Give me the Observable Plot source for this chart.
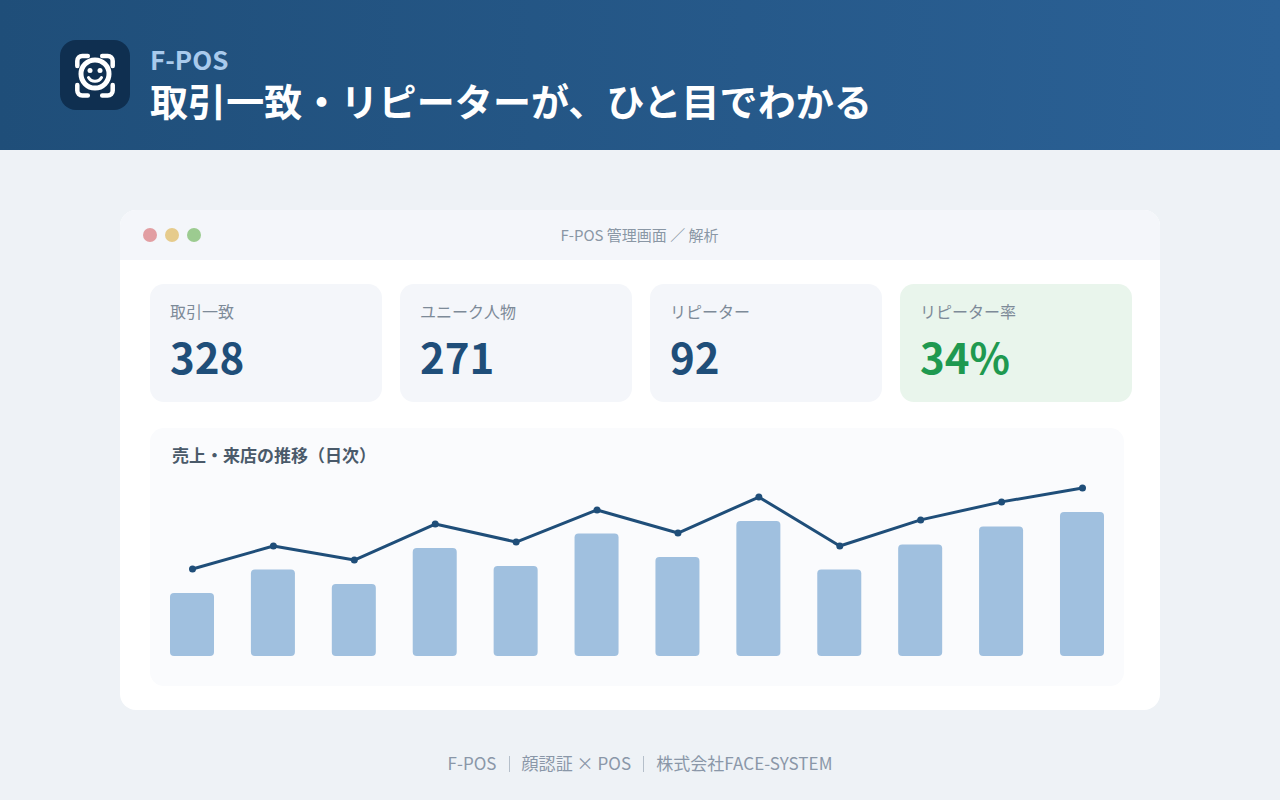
<!DOCTYPE html>
<html lang="ja">
<head>
<meta charset="utf-8">
<script src="https://cdn.jsdelivr.net/npm/d3@7"></script>
<script src="https://cdn.jsdelivr.net/npm/@observablehq/plot@0.6"></script>
<style>
html,body{margin:0;padding:0}
body{width:1280px;height:800px;position:relative;overflow:hidden;background:#eef2f6;font-family:"Noto Sans CJK JP","Noto Sans",sans-serif}
.abs{position:absolute;box-sizing:border-box}
#header{left:0;top:0;width:1280px;height:150px;background:linear-gradient(90deg,#1f4e79,#2b6196)}
#logo{left:60px;top:40px;width:70px;height:70px;border-radius:16px;background:#0f2f50}
#brand{left:150px;top:45px;height:28px;font-size:26px;font-weight:700;line-height:28px;color:#a9caec;white-space:nowrap}
#title{left:150px;top:79px;height:42px;font-size:38px;font-weight:700;line-height:42px;color:#fff;white-space:nowrap;letter-spacing:.1px}
#win{left:120px;top:210px;width:1040px;height:500px;border-radius:16px;background:#fff;overflow:hidden}
#bar{left:0;top:0;width:1040px;height:50px;background:#f4f6fa}
.dot{width:14px;height:14px;border-radius:50%;top:18px}
#wintitle{left:0;top:0;width:1039px;height:50px;text-align:center;line-height:50px;font-size:15px;color:#8a97a5}
.card{top:284px;width:232px;height:118px;border-radius:14px;background:#f4f6fa}
.card .lbl{position:absolute;left:20px;top:15px;font-size:16px;line-height:24px;color:#7d8a98;white-space:nowrap}
.card .val{position:absolute;left:20px;top:42px;font-size:42px;font-weight:700;line-height:60px;color:#1f4e79;white-space:nowrap}
#panel{left:150px;top:428px;width:974px;height:258px;border-radius:14px;background:#fafbfd}
#ptitle{left:172px;top:442px;font-size:17px;font-weight:700;line-height:25px;color:#4a5a6a;white-space:nowrap}
#chart{left:150px;top:470px}
#chart svg{display:block;background:transparent}
#footer{left:0;top:750px;width:1280px;text-align:center;font-size:17px;line-height:26px;color:#8a97a8;white-space:nowrap;letter-spacing:.05px}
#footer i{display:inline-block;width:1px;height:16px;background:#b5bfca;margin:0 12px;vertical-align:-2px}
</style>
</head>
<body>
<div class="abs" id="header"></div>
<div class="abs" id="logo">
<svg width="70" height="70" viewBox="0 0 70 70" fill="none" stroke="#fff" stroke-width="4.500" stroke-linecap="round">
<path d="M17.300 26v-5a5 5 0 0 1 5-5h5.500M42.200 16h5.500a5 5 0 0 1 5 5v5M52.700 45v5.500a5 5 0 0 1-5 5h-5.500M27.800 55.500h-5.500a5 5 0 0 1-5-5v-5.500"/>
<circle cx="35" cy="34" r="14" stroke-width="5"/>
<path d="M28.500 37.500a7.500 7.500 0 0 0 13 0" stroke-width="3"/>
<circle cx="30" cy="30.500" r="2.500" fill="#fff" stroke="none"/>
<circle cx="40" cy="30.500" r="2.500" fill="#fff" stroke="none"/>
</svg>
</div>
<div class="abs" id="brand">F-POS</div>
<div class="abs" id="title">取引一致・リピーターが、ひと目でわかる</div>

<div class="abs" id="win">
  <div class="abs" id="bar"></div>
  <div class="abs dot" style="left:23px;background:#e29ea2"></div>
  <div class="abs dot" style="left:45px;background:#e6cb8c"></div>
  <div class="abs dot" style="left:67px;background:#9ccb90"></div>
  <div class="abs" id="wintitle">F-POS 管理画面 ／ 解析</div>
</div>

<div class="abs card" style="left:150px"><div class="lbl">取引一致</div><div class="val">328</div></div>
<div class="abs card" style="left:400px"><div class="lbl">ユニーク人物</div><div class="val">271</div></div>
<div class="abs card" style="left:650px"><div class="lbl">リピーター</div><div class="val">92</div></div>
<div class="abs card" style="left:900px;background:#e9f5ec"><div class="lbl">リピーター率</div><div class="val" style="color:#1f9950">34%</div></div>

<div class="abs" id="panel"></div>
<div class="abs" id="ptitle">売上・来店の推移（日次）</div>
<div class="abs" id="chart"></div>
<div class="abs" id="footer">F-POS<i></i>顔認証 × POS<i></i>株式会社FACE-SYSTEM</div>

<script>
const days = ["1","2","3","4","5","6","7","8","9","10","11","12"];
const sales = [35,48,40,60,50,68,55,75,48,62,72,80];
const visits = [48.6,61.4,53.6,73.6,63.6,81.4,68.6,88.6,61.4,75.9,85.9,93.6];

const rows = days.map((d,i)=>({day:d,sales:sales[i],visits:visits[i]}));
const chart = Plot.plot({
  width:974,height:200,
  marginLeft:20,marginRight:20,marginTop:6,marginBottom:14,
  style:{background:"transparent"},
  x:{type:"band",domain:days,axis:null,paddingInner:0.456,paddingOuter:0,align:0.5,round:false},
  y:{domain:[0,100],axis:null},
  marks:[
    Plot.barY(rows,{x:"day",y:"sales",fill:"#a0c0df",rx:4,ry:4}),
    Plot.line(rows,{x:"day",y:"visits",stroke:"#1f4e79",strokeWidth:3,curve:"linear"}),
    Plot.dot(rows,{x:"day",y:"visits",r:3.5,fill:"#1f4e79",stroke:"none"})
  ]
});
document.getElementById("chart").appendChild(chart);
</script>
</body>
</html>
